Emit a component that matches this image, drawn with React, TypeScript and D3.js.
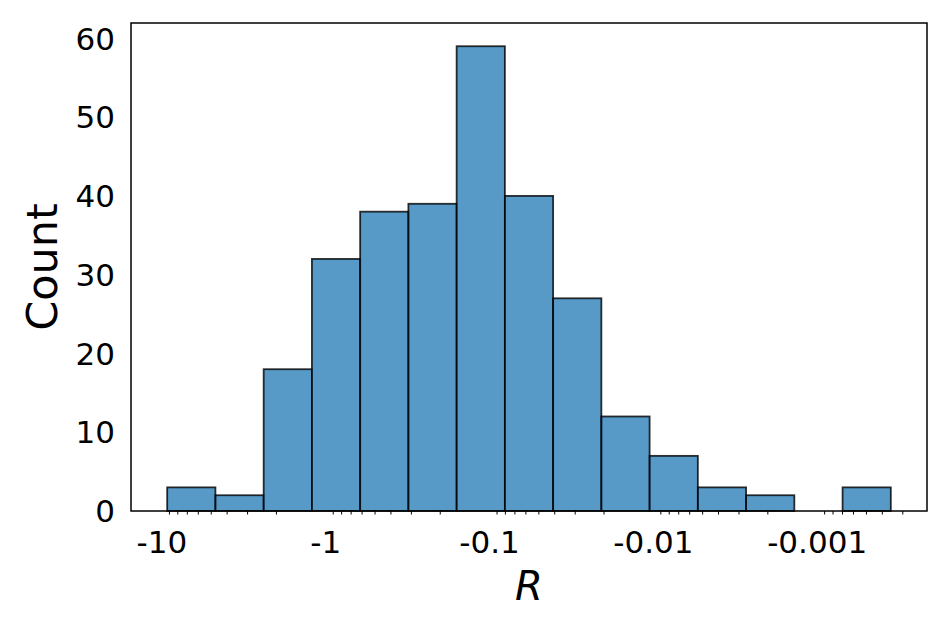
import React from "react";
import * as d3 from "d3";

// Histogram of R (negative values, log-spaced bins)
const rMin = -9.29; // most negative sample
const rMax = -0.000355; // least negative sample
const counts = [3, 2, 18, 32, 38, 39, 59, 40, 27, 12, 7, 3, 2, 0, 3];
const majorTicks = [-10, -1, -0.1, -0.01, -0.001];
const majorLabels = ["-10", "-1", "-0.1", "-0.01", "-0.001"];
const yTicks = [0, 10, 20, 30, 40, 50, 60];
const xLabel = "R";
const yLabel = "Count";

const W = 952;
const H = 634;
const L = 131, R = 927, T = 23, B = 511;
const FONT = "DejaVu Sans, sans-serif";

export default function App() {
  const lo = Math.log10(-rMin);
  const hi = Math.log10(-rMax);
  const span = lo - hi;
  const m = span * 0.05;
  const x = d3.scaleLog().domain([-Math.pow(10, lo + m), -Math.pow(10, hi - m)]).range([L, R]);
  const yMax = d3.max(counts)! * 1.05;
  const y = d3.scaleLinear().domain([0, yMax]).range([B, T]);

  const n = counts.length;
  const edges = d3.range(n + 1).map((i) => -Math.pow(10, lo - (i * span) / n));

  const [d0, d1] = x.domain();
  const minor: number[] = [];
  for (let k = -6; k <= 2; k++) {
    for (let s = 2; s <= 9; s++) {
      const v = -s * Math.pow(10, k);
      if (v >= d0 && v <= d1) minor.push(v);
    }
  }

  return (
    <svg width={W} height={H} style={{ position: "absolute", left: 0, top: 0, background: "#fff" }}>
      <rect x={0} y={0} width={W} height={H} fill="#fff" />
      {counts.map((c, i) =>
        c > 0 ? (
          <rect
            key={i}
            x={x(edges[i])}
            y={y(c)}
            width={x(edges[i + 1]) - x(edges[i])}
            height={y(0) - y(c)}
            fill="#1f77b4"
            fillOpacity={0.75}
            stroke="#000"
            strokeOpacity={0.8}
            strokeWidth={1.8}
          />
        ) : null
      )}
      {minor.map((v, i) => (
        <line key={i} x1={x(v)} x2={x(v)} y1={B} y2={B + 3.5} stroke="#000" strokeWidth={1} />
      ))}
      <rect x={L} y={T} width={R - L} height={B - T} fill="none" stroke="#000" strokeWidth={1.5} />
      {majorTicks.map((v, i) => (
        <text key={i} x={x(v)} y={553} textAnchor="middle" fontFamily={FONT} fontSize={31} fill="#000">
          {majorLabels[i]}
        </text>
      ))}
      {yTicks.map((v) => (
        <text key={v} x={115} y={y(v)} dy="0.36em" textAnchor="end" fontFamily={FONT} fontSize={31} fill="#000">
          {v}
        </text>
      ))}
      <text x={(L + R) / 2} y={600} textAnchor="middle" fontFamily={FONT} fontSize={40} fontStyle="italic" fill="#000">
        {xLabel}
      </text>
      <text
        transform={`translate(57,${(T + B) / 2}) rotate(-90)`}
        textAnchor="middle"
        fontFamily={FONT}
        fontSize={43}
        fill="#000"
      >
        {yLabel}
      </text>
    </svg>
  );
}
